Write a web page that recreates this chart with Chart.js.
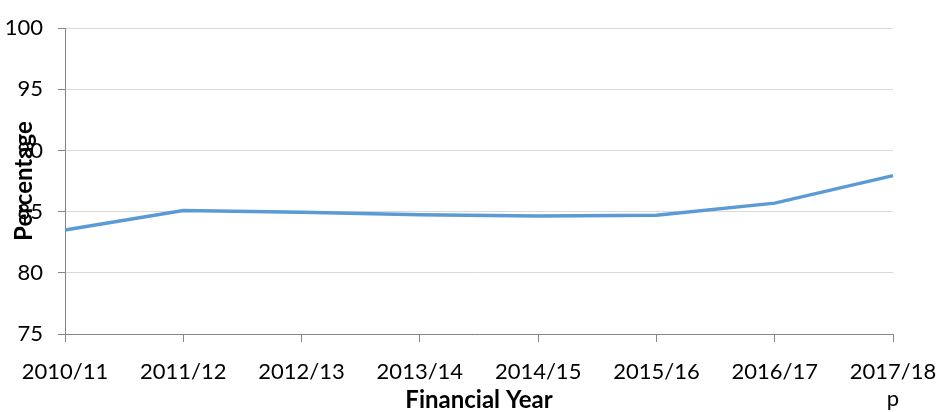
<!DOCTYPE html>
<html>
<head>
<meta charset="utf-8">
<script src="https://cdn.jsdelivr.net/npm/chart.js@4.4.1/dist/chart.umd.min.js"></script>
<style>
    html, body { margin: 0; padding: 0; background: #fff; }
    #chartBox { width: 941px; height: 412px; }
</style>
</head>
<body>
<div id="chartBox"><canvas id="percentChart"></canvas></div>
<script>
// data
const years = ['2010/11', '2011/12', '2012/13', '2013/14', '2014/15', '2015/16', '2016/17', '2017/18'];
const percentValues = [83.5, 85.1, 84.95, 84.75, 84.65, 84.7, 85.7, 87.95];
const yTicks = [75, 80, 85, 90, 95, 100];
const provisionalMark = 'p';

const fontName = 'Lato, "Open Sans", sans-serif';

//---------------------------------
//Start y title plugin (it overlaps the tick labels in the original)
const yTitleText = {
    id: 'yTitleText',
    afterDraw(chart) {
        const ctx = chart.ctx;
        const area = chart.chartArea;
        ctx.save();
        ctx.fillStyle = '#000';
        ctx.font = 'bold 24px ' + fontName;
        ctx.textAlign = 'center';
        ctx.textBaseline = 'middle';
        ctx.translate(24, (area.top + area.bottom) / 2);
        ctx.rotate(-Math.PI / 2);
        ctx.fillText('Percentage', 0, 0);
        ctx.restore();
    }
};
//End y title plugin
//---------------------------------

const ctx = document.getElementById('percentChart');

var myChart = new Chart(ctx, {
    type: 'line',
    data: {
        labels: years,
        datasets: [{
            data: percentValues,
            borderColor: '#5b9bd5',
            borderWidth: 3.5,
            pointRadius: 0,
            tension: 0,
            fill: false
        }]
    },
    options: {
        responsive: true,
        maintainAspectRatio: false,
        animation: false,
        layout: {
            padding: { top: 18, right: 48, bottom: 0, left: 0 }
        },
        plugins: {
            legend: { display: false },
            tooltip: { enabled: false }
        },
        scales: {
            x: {
                offset: false,
                afterFit(scale) {
                    scale.height = 78;
                    // let the last label hang past the plot like the original
                    scale.paddingLeft = 0;
                    scale.paddingRight = 0;
                },
                grid: {
                    drawOnChartArea: false,
                    drawTicks: true,
                    tickLength: 8,
                    color: '#868686'
                },
                border: { color: '#868686' },
                ticks: {
                    color: '#000',
                    font: { family: fontName, size: 22 },
                    padding: 17,
                    maxRotation: 0,
                    autoSkip: false,
                    callback: function (value, index) {
                        // last year is provisional
                        if (index == years.length - 1) return [years[index], provisionalMark];
                        return years[index];
                    }
                },
                title: {
                    display: true,
                    text: 'Financial Year',
                    color: '#000',
                    font: { family: fontName, size: 24, weight: 'bold', lineHeight: 1 },
                    padding: { top: 0, bottom: 0 }
                }
            },
            y: {
                min: 75,
                max: 100,
                afterBuildTicks(scale) {
                    scale.ticks = yTicks.map(v => ({ value: v }));
                },
                afterFit(scale) {
                    scale.width = 65;
                },
                grid: {
                    color: '#d9d9d9',
                    tickColor: '#868686',
                    tickLength: 7
                },
                border: { color: '#868686' },
                ticks: {
                    color: '#000',
                    font: { family: fontName, size: 22 },
                    padding: 15
                }
            }
        }
    },
    plugins: [yTitleText]
});
</script>
</body>
</html>
